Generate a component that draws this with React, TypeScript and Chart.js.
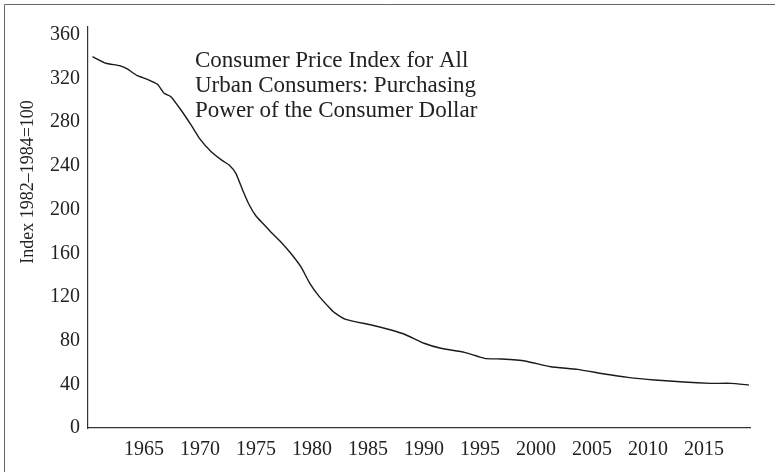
import React, { useEffect, useRef } from "react";
import { Chart, registerables } from "chart.js";

Chart.register(...registerables);

const years: number[] = [
  1960.4, 1961.6, 1962.8, 1963.5, 1964.4, 1965.3, 1966.2, 1966.8, 1967.4, 1968.3,
  1969.2, 1970.0, 1971.0, 1972.0, 1972.6, 1973.2, 1973.8, 1974.4, 1975.0, 1975.6,
  1976.3, 1977.2, 1978.1, 1979.0, 1979.8, 1980.6, 1981.6, 1982.0, 1983.0, 1985.3,
  1986.8, 1988.2, 1990.0, 1991.5, 1993.6, 1995.4, 1996.9, 1999.0, 2001.3, 2003.7,
  2006.1, 2008.2, 2010.6, 2013.2, 2015.6, 2017.4, 2019.0,
];
const purchasingPower: number[] = [
  340, 334, 331.8, 328.8, 322.6, 319.3, 314.7, 306.5, 303.4, 291.2,
  277.5, 264.5, 253, 244.8, 240.8, 233.2, 218, 204.2, 194.1, 187.4,
  179.8, 170.6, 160, 147.7, 132.5, 121, 109.6, 105.6, 99.5, 94.3,
  90.4, 86.1, 77.6, 73.0, 69.3, 63.8, 63.2, 61.4, 56.1, 53.7,
  49.5, 46.4, 44.0, 42.1, 40.9, 40.9, 39.4,
];
const xTickYears: number[] = [1965, 1970, 1975, 1980, 1985, 1990, 1995, 2000, 2005, 2010, 2015];
const yTickValues: number[] = [0, 40, 80, 120, 160, 200, 240, 280, 320, 360];
const annotationLines: string[] = [
  "Consumer Price Index for All",
  "Urban Consumers: Purchasing",
  "Power of the Consumer Dollar",
];
const yAxisTitle = "Index 1982\u20131984=100";

const FONT = "'Liberation Serif', 'Times New Roman', serif";
const TEXT = "#222";

const decorPlugin = {
  id: "decor",
  beforeDraw(chart: any) {
    const ctx = chart.ctx;
    ctx.save();
    ctx.strokeStyle = "#666";
    ctx.lineWidth = 1;
    ctx.beginPath();
    ctx.moveTo(4.5, 472);
    ctx.lineTo(4.5, 4.5);
    ctx.lineTo(775, 4.5);
    ctx.stroke();
    ctx.restore();
  },
  afterDraw(chart: any) {
    const ctx = chart.ctx;
    ctx.save();
    ctx.fillStyle = TEXT;
    ctx.font = `18px ${FONT}`;
    ctx.translate(28, 182);
    ctx.rotate(-Math.PI / 2);
    ctx.textAlign = "center";
    ctx.textBaseline = "middle";
    ctx.fillText(yAxisTitle, 0, 0);
    ctx.restore();
    ctx.save();
    ctx.fillStyle = TEXT;
    ctx.font = `23px ${FONT}`;
    ctx.textAlign = "left";
    ctx.textBaseline = "middle";
    annotationLines.forEach((t, i) => ctx.fillText(t, 195, 61 + i * 25));
    ctx.restore();
  },
};

export default function App() {
  const ref = useRef<HTMLCanvasElement>(null);
  useEffect(() => {
    if (!ref.current) return;
    const chart = new Chart(ref.current, {
      type: "line",
      data: {
        datasets: [
          {
            data: years.map((x, i) => ({ x, y: purchasingPower[i] })),
            borderColor: "#1a1a1a",
            borderWidth: 1.4,
            pointRadius: 0,
            tension: 0.15,
            fill: false,
          },
        ],
      },
      options: {
        animation: false,
        responsive: false,
        layout: { padding: { top: 27, right: 25, left: 0, bottom: 0 } },
        plugins: { legend: { display: false }, tooltip: { enabled: false }, title: { display: false } },
        scales: {
          x: {
            type: "linear",
            min: 1960,
            max: 2019.1,
            grid: { display: false, drawTicks: false },
            border: { display: true, color: "#333", width: 1.2 },
            afterBuildTicks: (s: any) => {
              s.ticks = xTickYears.map((v) => ({ value: v }));
            },
            ticks: {
              autoSkip: false,
              maxRotation: 0,
              padding: 10,
              color: TEXT,
              font: { family: FONT, size: 20 },
              callback: (v: any) => String(v),
            },
            afterFit: (s: any) => {
              s.height = 44;
            },
          },
          y: {
            min: 0,
            max: 367.2,
            grid: { display: false, drawTicks: false },
            border: { display: true, color: "#333", width: 1.2 },
            afterBuildTicks: (s: any) => {
              s.ticks = yTickValues.map((v) => ({ value: v }));
            },
            ticks: {
              padding: 8,
              color: TEXT,
              font: { family: FONT, size: 20 },
            },
            afterFit: (s: any) => {
              s.width = 88;
            },
          },
        },
      },
      plugins: [decorPlugin],
    });
    return () => chart.destroy();
  }, []);
  return (
    <div style={{ position: "absolute", left: 0, top: 0, width: 775, height: 472, background: "#fff" }}>
      <canvas ref={ref} width={775} height={472} style={{ display: "block" }} />
    </div>
  );
}
